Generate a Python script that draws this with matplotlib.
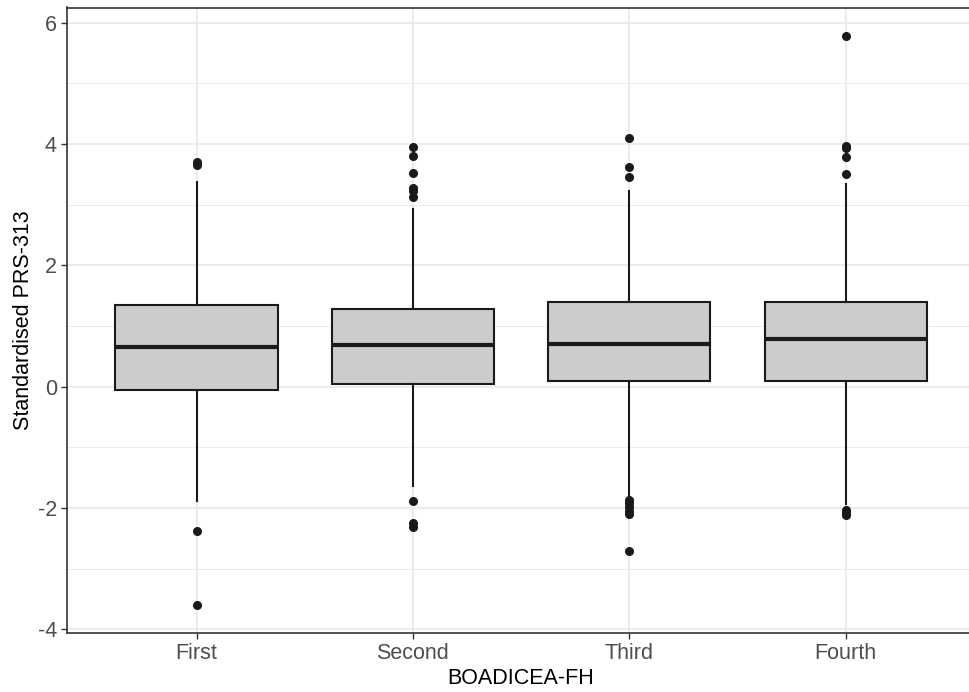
import matplotlib
matplotlib.use("Agg")
import matplotlib.pyplot as plt
from matplotlib.ticker import MultipleLocator

plt.rcParams['font.family'] = ['Liberation Sans', 'DejaVu Sans']

# Per-group summary statistics of the standardised score
categories = ["First", "Second", "Third", "Fourth"]
q1 = [-0.06, 0.05, 0.10, 0.10]
median = [0.65, 0.69, 0.71, 0.78]
q3 = [1.35, 1.28, 1.40, 1.40]
whisker_low = [-1.88, -1.63, -1.83, -1.93]
whisker_high = [3.38, 2.93, 3.22, 3.34]
outliers_first = [3.70, 3.65, -2.38, -3.59]
outliers_second = [3.95, 3.80, 3.52, 3.27, 3.22, 3.13, -1.89, -2.25, -2.32]
outliers_third = [4.09, 3.62, 3.46, -1.86, -1.91, -1.98, -2.05, -2.10, -2.71]
outliers_fourth = [5.78, 3.96, 3.93, 3.78, 3.50, -2.03, -2.08, -2.12]
outliers = [outliers_first, outliers_second, outliers_third, outliers_fourth]

y_ticks = [-4, -2, 0, 2, 4, 6]

W, H = 969, 692
fig = plt.figure(figsize=(W / 100, H / 100), dpi=100)
# panel extends slightly past the right edge of the canvas
left, right, top, bottom = 66.7, 975.5, 7.5, 633.0
ax = fig.add_axes([left / W, (H - bottom) / H, (right - left) / W, (bottom - top) / H])

stats = []
for i, name in enumerate(categories):
    stats.append(dict(label=name, med=median[i], q1=q1[i], q3=q3[i],
                      whislo=whisker_low[i], whishi=whisker_high[i],
                      fliers=outliers[i]))

dark = "#1a1a1a"
positions = list(range(1, len(categories) + 1))
ax.bxp(stats, positions=positions, widths=0.75, patch_artist=True,
       showcaps=False,
       boxprops=dict(facecolor="#cccccc", edgecolor=dark, linewidth=1.5),
       medianprops=dict(color=dark, linewidth=3.0),
       whiskerprops=dict(color=dark, linewidth=1.5),
       flierprops=dict(marker="o", markerfacecolor=dark, markeredgecolor=dark,
                       markersize=5.5, linestyle="none"),
       zorder=3)

# y range with 5% expansion around all values
all_vals = [v for grp in outliers for v in grp] + whisker_low + whisker_high
lo, hi = min(all_vals), max(all_vals)
pad = 0.05 * (hi - lo)
ax.set_ylim(lo - pad, hi + pad)
ax.set_xlim(0.4, len(categories) + 0.6)

ax.set_yticks(y_ticks)
ax.set_yticklabels([str(t) for t in y_ticks])
ax.yaxis.set_minor_locator(MultipleLocator(1))
ax.set_xticks(positions)
ax.set_xticklabels(categories)

ax.set_axisbelow(True)
ax.grid(which="major", color="#ebebeb", linewidth=1.3, zorder=0)
ax.grid(which="minor", axis="y", color="#ebebeb", linewidth=0.7, zorder=0)

for s in ax.spines.values():
    s.set_color("#333333")
    s.set_linewidth(1.2)

ax.tick_params(axis="both", which="major", length=4, width=1.0, color="#333333",
               labelsize=15.5, labelcolor="#4d4d4d", pad=3)
ax.tick_params(axis="y", which="minor", length=0)

ax.set_xlabel("BOADICEA-FH", fontsize=15.5, color="black", labelpad=3)
ax.set_ylabel("Standardised PRS-313", fontsize=15.5, color="black", labelpad=3)

fig.savefig("out.png", dpi=100)
